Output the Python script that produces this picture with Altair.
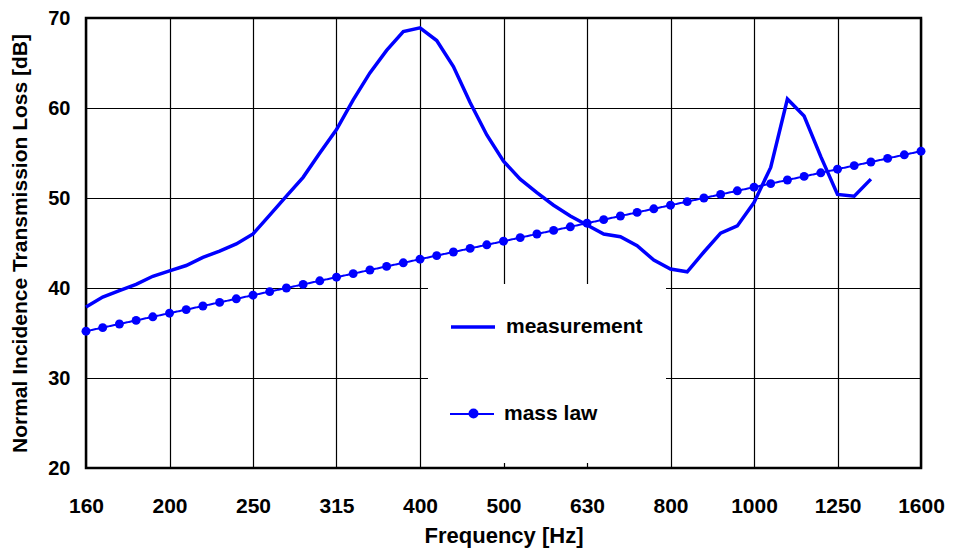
import json
import altair as alt
import pandas as pd

# 1/3-octave band labels on the x axis
band_labels = ["160", "200", "250", "315", "400", "500", "630", "800", "1000", "1250", "1600"]

# values read at 1/15-octave steps starting at 160 Hz
measurement_db = [
    37.9, 39.0, 39.7, 40.4, 41.3, 41.9, 42.5, 43.4, 44.1, 44.9,
    46.0, 48.1, 50.2, 52.3, 55.0, 57.6, 60.9, 63.9, 66.4, 68.5,
    68.9, 67.5, 64.6, 60.6, 57.0, 54.1, 52.1, 50.6, 49.2, 48.0,
    47.0, 46.0, 45.7, 44.7, 43.1, 42.1, 41.8, 44.0, 46.1, 46.9,
    49.5, 53.4, 61.0, 59.1, 54.6, 50.4, 50.2, 52.1,
]
mass_law_db = [
    35.2, 35.6, 36.0, 36.4, 36.8, 37.2, 37.6, 38.0, 38.4, 38.8,
    39.2, 39.6, 40.0, 40.4, 40.8, 41.2, 41.6, 42.0, 42.4, 42.8,
    43.2, 43.6, 44.0, 44.4, 44.8, 45.2, 45.6, 46.0, 46.4, 46.8,
    47.2, 47.6, 48.0, 48.4, 48.8, 49.2, 49.6, 50.0, 50.4, 50.8,
    51.2, 51.6, 52.0, 52.4, 52.8, 53.2, 53.6, 54.0, 54.4, 54.8,
    55.2,
]
y_ticks = [20, 30, 40, 50, 60, 70]

# sampling grid: 1/15 octave steps from 160 Hz
freq_grid = [160 * 10 ** (k / 50) for k in range(len(mass_law_db))]
band_centres = [160 * 10 ** (j / 10) for j in range(len(band_labels))]

meas_df = pd.DataFrame({"freq": freq_grid[:len(measurement_db)], "tl": measurement_db,
                        "series": ["measurement"] * len(measurement_db)})
mass_df = pd.DataFrame({"freq": freq_grid, "tl": mass_law_db,
                        "series": ["mass law"] * len(mass_law_db)})

FONT = "Liberation Sans"
BLUE = "#0000ff"
FS = 21

label_expr = json.dumps(band_labels) + "[round(10*log(datum.value/160)/LN10)]"

x_enc = alt.X("freq:Q",
              scale=alt.Scale(type="log", domain=[160, 1600], nice=False),
              axis=alt.Axis(values=band_centres, labelExpr=label_expr,
                            title="Frequency [Hz]"))
y_enc = alt.Y("tl:Q",
              scale=alt.Scale(domain=[20, 70], nice=False, zero=False),
              axis=alt.Axis(values=y_ticks, title="Normal Incidence Transmission Loss [dB]"))

legend_common = dict(orient="none", labelFont=FONT, labelFontSize=FS, labelFontWeight="bold",
                     labelColor="black", title=None, padding=0)

box = alt.Chart(pd.DataFrame({"a": [0]})).mark_rect(color="white").encode(
    x=alt.value(342), x2=alt.value(580), y=alt.value(266), y2=alt.value(445))

meas_line = alt.Chart(meas_df).mark_line(strokeWidth=3.5).encode(
    x=x_enc, y=y_enc,
    color=alt.Color("series:N", scale=alt.Scale(domain=["measurement"], range=[BLUE]),
                    legend=alt.Legend(symbolType="stroke", symbolSize=1936,
                                      symbolStrokeWidth=3.5, labelOffset=9,
                                      legendX=363, legendY=285, **legend_common)))

mass_line = alt.Chart(mass_df).mark_line(color=BLUE, strokeWidth=2).encode(
    x=x_enc, y=y_enc,
    strokeDash=alt.StrokeDash("series:N", scale=alt.Scale(domain=["mass law"], range=[[1, 0]]),
                              legend=alt.Legend(symbolType="stroke", symbolSize=1936,
                                                symbolStrokeWidth=2, labelOffset=9,
                                                legendX=363, legendY=373, **legend_common)))

mass_pts = alt.Chart(mass_df).mark_circle(color=BLUE, size=80, opacity=1).encode(
    x=x_enc, y=y_enc,
    opacity=alt.Opacity("series:N", scale=alt.Scale(domain=["mass law"], range=[1]),
                        legend=alt.Legend(symbolType="circle", symbolSize=100,
                                          symbolFillColor=BLUE, labelExpr="''",
                                          legendX=377, legendY=385,
                                          **legend_common)))

chart = alt.layer(box, meas_line, mass_line, mass_pts).resolve_legend(
    color="independent", opacity="independent", strokeDash="independent"
).properties(
    width=835, height=450,
    autosize=alt.AutoSizeParams(type="none"),
    padding={"left": 78, "top": 10, "right": 24, "bottom": 80},
).configure_view(
    stroke="black", strokeWidth=2.5
).configure_axis(
    grid=True, gridColor="black", gridWidth=1.2, gridOpacity=1,
    domain=False, ticks=False, tickSize=0, labelFlush=False,
    labelFont=FONT, labelFontSize=FS, labelFontWeight="bold", labelColor="black",
    titleFont=FONT, titleFontSize=FS, titleFontWeight="bold", titleColor="black",
).configure_axisX(
    labelPadding=27, titlePadding=9, labelAngle=0, titleFontSize=22,
).configure_axisY(
    labelPadding=16, titlePadding=17, labelFontSize=20,
)

chart.save("out.html", embed_options={"renderer": "svg", "actions": False})
